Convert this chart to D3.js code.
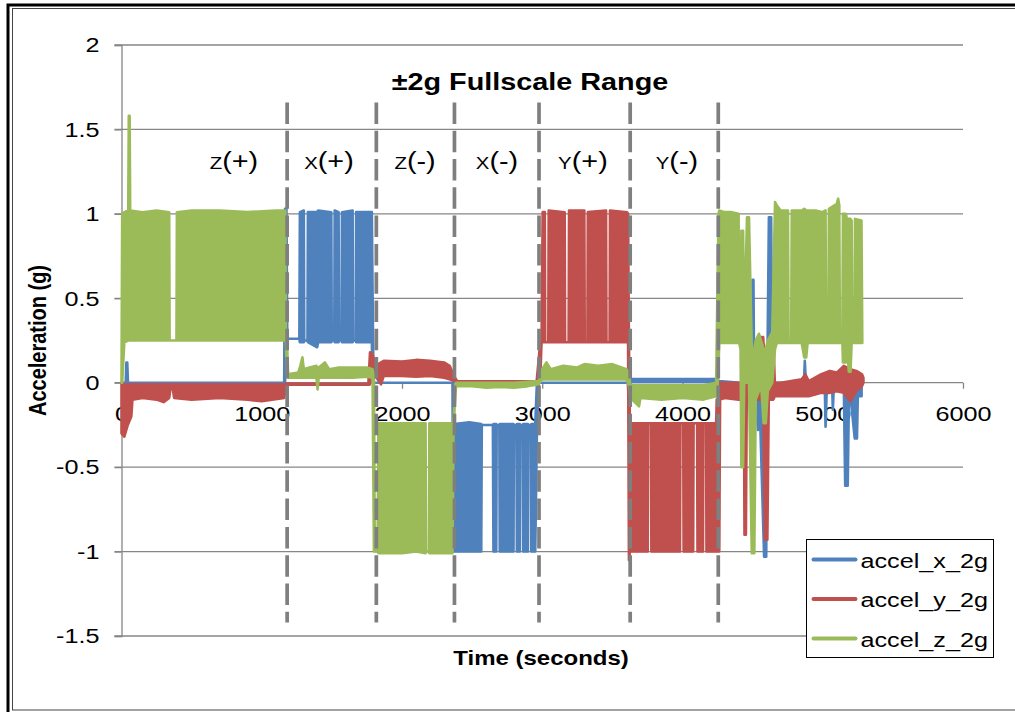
<!DOCTYPE html>
<html>
<head>
<meta charset="utf-8">
<script src="https://cdn.jsdelivr.net/npm/d3@7"></script>
<style>
  body { margin: 0; background: #fff; }
  svg { display: block; font-family: "Liberation Sans", Arial, sans-serif; }
</style>
</head>
<body>
<svg id="chart" width="1015" height="712"></svg>
<script>
// ---- data: [time (s), low (g), high (g)] envelope of each trace ----
const seriesNames = ['accel_x_2g', 'accel_y_2g', 'accel_z_2g'];

const accelX = [
  [0, 0, 0], [30, 0, 0], [35, 0, 0.12], [41, 0, 0.12], [46, 0, 0], [600, 0, 0], [1160, 0, 0],
  [1166, 0, 1.03], [1176, 0.26, 1.03], [1182, 0.26, 0.26], [1268, 0.26, 0.26],
  [1272, 0.24, 1.01], [1300, 0.24, 1.02], [1303, 0.25, 0.25], [1326, 0.25, 0.25], [1329, 0.24, 1.01],
  [1395, 0.21, 1.01], [1402, 0.24, 1.02], [1496, 0.24, 1.01], [1499, 0.25, 0.25], [1517, 0.25, 0.25], [1520, 0.24, 1.02],
  [1548, 0.24, 1.01], [1551, 0.25, 0.25], [1569, 0.25, 0.25], [1572, 0.24, 1.01],
  [1648, 0.24, 1.02], [1651, 0.25, 0.25], [1670, 0.25, 0.25], [1673, 0.24, 1.01],
  [1785, 0.24, 1.01], [1790, 0, 0.55], [1797, 0, 0], [2360, 0, 0],
  [2366, -1.0, 0], [2372, -1.0, -0.245], [2480, -1.0, -0.235], [2565, -1.0, -0.245],
  [2569, -0.25, -0.25], [2648, -0.25, -0.25], [2652, -1.0, -0.245],
  [2672, -1.0, -0.245], [2675, -0.25, -0.25], [2694, -0.25, -0.25], [2697, -1.0, -0.245],
  [2795, -1.0, -0.245], [2798, -0.25, -0.25], [2816, -0.25, -0.25], [2819, -1.0, -0.245],
  [2840, -1.0, -0.245], [2843, -0.25, -0.25], [2861, -0.25, -0.25], [2864, -1.0, -0.245],
  [2898, -1.0, -0.245], [2901, -0.25, -0.25], [2919, -0.25, -0.25], [2922, -1.0, -0.245],
  [2950, -1.0, -0.245], [2962, -0.28, 0], [2975, 0, 0], [3610, 0, 0],
  [3620, -0.15, 0.02], [3630, 0.005, 0.022], [4245, 0.005, 0.022], [4260, 0, 0.01],
  [4415, 0, 0], [4420, -0.14, 0], [4426, 0, 0], [4495, 0, 0], [4499, 0, 0.61], [4506, 0, 0.61], [4511, 0, 0],
  [4538, -0.28, 0], [4546, 0, 0], [4582, -1.03, 0], [4597, -1.03, 0], [4604, 0, 0],
  [4616, 0, 0.98], [4632, 0, 0.98], [4640, 0, 0], [4866, 0, 0], [4872, 0, 0.13], [4880, 0, 0],
  [5014, 0, 0], [5020, -0.26, 0], [5030, 0, 0], [5066, 0, 0], [5072, -0.16, 0], [5080, 0, 0],
  [5150, 0, 0], [5160, -0.61, 0], [5178, -0.61, 0], [5188, 0, 0],
  [5228, -0.33, 0], [5244, -0.33, 0], [5252, 0, 0], [5265, -0.08, 0], [5277, -0.08, 0]
];

const accelY = [
  [0, -0.3, 0], [20, -0.32, -0.01], [45, -0.25, -0.01], [70, -0.2, -0.01], [78, -0.1, -0.01],
  [150, -0.09, -0.01], [250, -0.1, -0.01], [300, -0.115, -0.01], [340, -0.09, -0.01],
  [350, -0.03, -0.01], [365, -0.03, -0.01], [375, -0.09, -0.01], [500, -0.1, -0.01],
  [700, -0.09, -0.01], [900, -0.1, -0.01], [1000, -0.11, -0.01], [1160, -0.09, -0.01],
  [1172, -0.012, -0.005], [1760, -0.012, -0.008], [1772, -0.01, 0.18], [1790, 0.04, 0.17],
  [1810, 0.04, 0.1], [1850, -0.01, 0.12], [1870, 0.04, 0.13], [2000, 0.04, 0.125],
  [2100, 0.035, 0.135], [2200, 0.04, 0.13], [2300, 0.03, 0.12], [2340, 0.02, 0.1],
  [2370, 0.01, 0.04], [2395, 0.006, 0.008], [2960, 0.006, 0.008], [2985, 0.01, 0.23],
  [2995, 0.24, 0.24], [3003, 0.24, 1.01], [3018, 0.24, 1.01], [3021, 0.24, 0.24], [3043, 0.24, 0.24], [3046, 0.24, 1.02],
  [3160, 0.24, 1.01], [3163, 0.24, 0.24], [3188, 0.24, 0.24], [3191, 0.24, 1.02],
  [3300, 0.24, 1.02], [3303, 0.24, 0.24], [3322, 0.24, 0.24], [3325, 0.24, 1.01],
  [3455, 0.24, 1.02], [3458, 0.24, 0.24], [3480, 0.24, 0.24], [3483, 0.24, 1.02],
  [3605, 0.24, 1.01], [3612, 0.24, 1.0], [3618, -1.05, 0.24], [3625, -1.0, -0.24],
  [3752, -1.0, -0.24], [3755, -0.24, -0.24], [3775, -0.24, -0.24], [3778, -1.0, -0.24],
  [3982, -1.0, -0.24], [3985, -0.24, -0.24], [4005, -0.24, -0.24], [4008, -1.0, -0.24],
  [4076, -1.0, -0.24], [4079, -0.24, -0.24], [4104, -0.24, -0.24], [4107, -1.0, -0.24],
  [4146, -1.0, -0.24], [4149, -0.24, -0.24], [4168, -0.24, -0.24], [4171, -1.0, -0.24],
  [4240, -1.0, -0.24], [4244, -1.0, -0.1], [4262, -1.0, -0.1], [4268, -0.1, 0],
  [4300, -0.09, 0], [4400, -0.1, 0], [4438, -0.1, 0], [4442, -0.9, 0.02], [4452, -0.9, 0.02],
  [4458, -0.1, 0], [4496, -0.1, 0], [4500, -0.1, 0.19], [4506, -0.1, 0.19], [4512, -0.1, 0],
  [4565, -0.1, 0.27], [4575, -0.1, 0.27], [4588, -0.93, 0.1], [4605, -0.93, 0.05], [4615, -0.1, 0],
  [4636, -0.1, 0.28], [4648, -0.1, 0.28], [4658, -0.08, 0], [4700, -0.08, 0], [4850, -0.08, 0.02],
  [4876, -0.08, 0.05], [4900, -0.08, 0.01], [4990, -0.06, 0.05], [5050, -0.06, 0.07],
  [5100, -0.05, 0.06], [5150, -0.06, 0.1], [5196, -0.11, 0.08], [5240, -0.05, 0.07],
  [5280, -0.02, 0.05], [5290, 0, 0.03]
];

const accelZ = [
  [0, 0, 0], [5, 0, 1.0], [20, 0.24, 1.01], [48, 0.25, 1.02], [52, 0.25, 1.58], [58, 0.25, 1.58],
  [62, 0.25, 1.02], [150, 0.25, 1.01], [250, 0.25, 1.02], [340, 0.25, 1.01], [343, 0.25, 0.25],
  [392, 0.25, 0.25], [395, 0.25, 1.01], [500, 0.25, 1.02], [700, 0.25, 1.02], [900, 0.25, 1.01],
  [1100, 0.25, 1.02], [1168, 0.25, 1.02], [1172, 0.25, 0.25], [1180, 0.04, 0.25], [1188, 0.03, 0.05],
  [1260, 0.03, 0.06], [1275, 0.03, 0.1], [1290, 0.03, 0.15], [1300, 0.03, 0.08], [1340, 0.03, 0.09],
  [1390, 0.03, 0.1], [1398, -0.04, 0.08], [1406, 0.03, 0.09], [1450, 0.03, 0.12], [1480, 0.03, 0.08],
  [1550, 0.03, 0.09], [1650, 0.03, 0.09], [1750, 0.035, 0.09], [1790, 0.03, 0.08],
  [1800, -1.0, 0.04], [1806, -1.0, -0.98], [1826, -1.0, -0.98], [1832, -1.01, -0.24],
  [2000, -1.01, -0.24], [2100, -1.0, -0.24], [2168, -1.01, -0.24], [2171, -1.0, -1.0],
  [2192, -1.0, -1.0], [2195, -1.01, -0.24], [2300, -1.01, -0.24], [2360, -1.01, -0.24],
  [2368, -0.24, -0.2], [2385, -0.02, 0], [2500, -0.02, 0], [2600, -0.03, 0], [2700, -0.025, 0],
  [2800, -0.03, 0], [2900, -0.02, 0.005], [2975, -0.01, 0.01], [2990, 0.01, 0.05], [3000, 0.02, 0.08],
  [3030, 0.02, 0.12], [3060, 0.02, 0.08], [3150, 0.02, 0.1], [3250, 0.02, 0.09], [3300, 0.02, 0.11],
  [3400, 0.02, 0.1], [3500, 0.02, 0.11], [3600, 0.02, 0.08], [3618, -0.02, 0.06],
  [3628, -0.09, -0.015], [3690, -0.14, -0.015], [3700, -0.09, -0.015], [3850, -0.1, -0.015],
  [4000, -0.09, -0.015], [4150, -0.1, -0.015], [4240, -0.08, 0], [4250, -0.02, 0.6],
  [4257, 0.1, 1.0], [4262, 0.235, 1.02], [4300, 0.235, 1.01], [4350, 0.235, 1.01], [4400, 0.235, 1.0],
  [4404, 0.235, 0.25], [4414, 0.2, 0.25], [4420, -0.5, 0.9], [4432, -0.5, 0.9], [4440, 0, 0.3],
  [4460, 0, 0.98], [4474, 0, 0.98], [4494, -1.01, 0.2], [4512, -1.01, 0.2], [4522, -0.1, 0.25],
  [4545, -0.05, 0.29], [4560, 0, 0.25], [4578, -0.24, 0.2], [4594, -0.24, 0.2], [4608, -0.05, 0.25],
  [4640, 0, 0.3], [4660, 0.2, 1.07], [4672, 0.235, 1.05], [4700, 0.235, 1.02], [4752, 0.235, 1.02],
  [4756, 0.235, 0.25], [4775, 0.235, 0.25], [4779, 0.235, 1.02], [4850, 0.235, 1.02],
  [4868, 0.15, 1.03], [4882, 0.15, 1.02], [4892, 0.235, 1.02], [4950, 0.235, 1.02], [5000, 0.235, 1.01],
  [5020, 0.235, 1.02], [5024, 0.235, 0.25], [5040, 0.235, 0.25], [5044, 0.235, 1.03],
  [5100, 0.235, 1.06], [5110, 0.235, 1.09], [5118, 0.235, 1.05], [5122, 0.235, 0.25],
  [5140, 0.235, 0.25], [5144, 0.12, 1.0], [5165, 0.12, 1.0], [5172, 0.235, 0.97],
  [5186, 0.065, 0.97], [5198, 0.065, 0.97], [5206, 0.235, 0.96], [5210, 0.235, 0.25],
  [5226, 0.235, 0.25], [5230, 0.235, 0.97], [5276, 0.235, 0.96], [5282, 0.235, 0.24]
];

// orientation changes (dashed markers) and their labels
const phaseTimes = [1181, 1817, 2374, 2977, 3627, 4255];
const phaseAxis = ['Z', 'X', 'Z', 'X', 'Y', 'Y'];
const phaseSign = ['+', '+', '-', '-', '+', '-'];
const phaseLabelTimes = [802, 1479, 2093, 2677, 3290, 3960];
const markerSpan = [1.66, -1.42];

const xTicks = [0, 1000, 2000, 3000, 4000, 5000, 6000];
const yTicks = [-1.5, -1, -0.5, 0, 0.5, 1, 1.5, 2];

const colors = ['#4F81BD', '#C0504D', '#9BBB59'];
const STRETCH = 1.2; // the picture's text is a little wide

const svg = d3.select('#chart');
const plotLeft = 121.5, plotRight = 963, plotTop = 45, plotBottom = 636;

const x = d3.scaleLinear().domain([0, 6000]).range([plotLeft, plotRight]);
const y = d3.scaleLinear().domain([-1.5, 2]).range([plotBottom, plotTop]);

svg.append('rect').attr('width', 1015).attr('height', 712).attr('fill', '#fff');

// frame
svg.append('rect').attr('x', 8).attr('y', 5).attr('width', 1030).attr('height', 730)
  .attr('fill', 'none').attr('stroke', '#000').attr('stroke-width', 3);
svg.append('rect').attr('x', 12.5).attr('y', 8.5).attr('width', 1030).attr('height', 701.5)
  .attr('fill', 'none').attr('stroke', '#444').attr('stroke-width', 1);

// gridlines
svg.append('g').selectAll('line').data(yTicks).enter().append('line')
  .attr('x1', plotLeft - 7).attr('x2', plotRight)
  .attr('y1', d => y(d)).attr('y2', d => y(d))
  .attr('stroke', '#868686').attr('stroke-width', 1.3);

// y axis
const yAxis = d3.axisLeft(y).tickValues(yTicks).tickSize(7).tickFormat(d => String(d));
const gy = svg.append('g').attr('transform', `translate(${plotLeft},0)`).call(yAxis);
gy.select('.domain').attr('stroke', '#868686').attr('stroke-width', 1.3);
gy.selectAll('.tick line').attr('stroke', '#868686').attr('stroke-width', 1.3);
gy.selectAll('.tick text')
  .attr('x', null)
  .attr('transform', `translate(-22,0) scale(${STRETCH},1)`)
  .style('font-size', '21px').attr('fill', '#000');

// x axis sits on zero
const xAxis = d3.axisBottom(x).tickValues(xTicks).tickSize(6).tickPadding(17).tickFormat(d => String(d));
const gx = svg.append('g').attr('transform', `translate(0,${y(0)})`).call(xAxis);
gx.select('.domain').remove();
gx.selectAll('.tick line').attr('stroke', '#868686').attr('stroke-width', 1.3);
gx.selectAll('.tick text')
  .attr('transform', `scale(${STRETCH},1)`)
  .style('font-size', '21px').attr('fill', '#000');

// traces
const area = d3.area()
  .x(d => x(d[0]))
  .y0(d => y(d[1]))
  .y1(d => y(d[2]));

[accelX, accelY, accelZ].forEach((s, i) => {
  svg.append('path')
    .datum(s)
    .attr('d', area)
    .attr('fill', colors[i])
    .attr('stroke', colors[i])
    .attr('stroke-width', 2.6)
    .attr('stroke-linejoin', 'round');
});

// dashed phase markers
svg.append('g').selectAll('line').data(phaseTimes).enter().append('line')
  .attr('x1', d => x(d)).attr('x2', d => x(d))
  .attr('y1', y(markerSpan[0])).attr('y2', y(markerSpan[1]))
  .attr('stroke', '#7f7f7f').attr('stroke-width', 3.7)
  .attr('stroke-dasharray', '21.5,6.8');

// phase labels: small-cap axis letter + sign in brackets
const lab = svg.append('g').selectAll('text').data(phaseLabelTimes).enter().append('text')
  .attr('transform', d => `translate(${x(d)},169) scale(${STRETCH},1)`)
  .attr('text-anchor', 'middle').attr('fill', '#000');
lab.append('tspan').style('font-size', '17px').text((d, i) => phaseAxis[i]);
lab.append('tspan').style('font-size', '24px').text((d, i) => '(' + phaseSign[i] + ')');

// title
svg.append('text')
  .attr('transform', `translate(530,90) scale(${STRETCH},1)`)
  .attr('text-anchor', 'middle')
  .style('font-size', '24px').style('font-weight', 'bold')
  .text('±2g Fullscale Range');

// axis titles
svg.append('text')
  .attr('transform', `translate(541,665) scale(${STRETCH},1)`)
  .attr('text-anchor', 'middle')
  .style('font-size', '20px').style('font-weight', 'bold')
  .text('Time (seconds)');

svg.append('text')
  .attr('transform', `translate(46,${(plotTop + plotBottom) / 2}) rotate(-90) scale(1,${STRETCH})`)
  .attr('text-anchor', 'middle')
  .style('font-size', '20px').style('font-weight', 'bold')
  .text('Acceleration (g)');

// legend
const legend = svg.append('g').attr('transform', 'translate(806.5,539.5)');
legend.append('rect').attr('width', 187).attr('height', 118)
  .attr('fill', '#fff').attr('stroke', '#000').attr('stroke-width', 1);
const item = legend.selectAll('.item').data(seriesNames).enter().append('g')
  .attr('class', 'item')
  .attr('transform', (d, i) => `translate(0,${20 + i * 39.5})`);
item.append('line').attr('x1', 7).attr('x2', 49).attr('y1', 0).attr('y2', 0)
  .attr('stroke', (d, i) => colors[i]).attr('stroke-width', 4).attr('stroke-linecap', 'round');
item.append('text')
  .attr('transform', `translate(54,8) scale(${STRETCH},1)`)
  .style('font-size', '21px').attr('fill', '#000')
  .text(d => d);
</script>
</body>
</html>
